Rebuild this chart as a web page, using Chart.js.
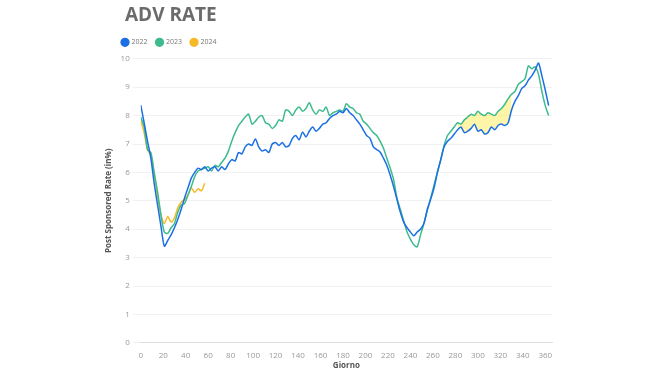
<!DOCTYPE html>
<html>
<head>
<meta charset="utf-8">
<script src="https://cdn.jsdelivr.net/npm/chart.js@4"></script>
<style>
  html, body { margin: 0; padding: 0; background: #fff; }
  #wrap { width: 670px; height: 377px; }
</style>
</head>
<body>
<div id="wrap"><canvas id="advRate" width="670" height="377"></canvas></div>
<script>
  // giorni campionati ogni 3
  const days = [
    0, 3, 6, 9, 12, 15, 18, 21, 24, 27, 30, 33, 36, 39, 42, 45, 48, 51, 54, 57,
    60, 63, 66, 69, 72, 75, 78, 81, 84, 87, 90, 93, 96, 99, 102, 105, 108, 111, 114, 117,
    120, 123, 126, 129, 132, 135, 138, 141, 144, 147, 150, 153, 156, 159, 162, 165, 168, 171, 174, 177,
    180, 183, 186, 189, 192, 195, 198, 201, 204, 207, 210, 213, 216, 219, 222, 225, 228, 231, 234, 237,
    240, 243, 246, 249, 252, 255, 258, 261, 264, 267, 270, 273, 276, 279, 282, 285, 288, 291, 294, 297,
    300, 303, 306, 309, 312, 315, 318, 321, 324, 327, 330, 333, 336, 339, 342, 345, 348, 351, 354, 357,
    360, 363
  ];

  const rate2022 = [
    8.37, 7.75, 7.1, 6.5, 5.6, 4.85, 4.1, 3.4, 3.6, 3.8, 4.05, 4.35, 4.7, 5.1, 5.45, 5.8, 6.0, 6.15, 6.1, 6.2,
    6.05, 6.15, 6.2, 6.05, 6.2, 6.1, 6.3, 6.45, 6.4, 6.7, 6.65, 6.9, 7.0, 6.95, 7.18, 6.9, 6.75, 6.8, 6.7, 7.0,
    7.05, 6.95, 7.05, 6.9, 6.95, 7.2, 7.3, 7.15, 7.42, 7.25, 7.45, 7.6, 7.45, 7.55, 7.7, 7.75, 7.9, 8.0, 8.05, 8.15,
    8.1, 8.25, 8.1, 8.0, 7.85, 7.7, 7.5, 7.3, 7.2, 6.9, 6.8, 6.72, 6.5, 6.25, 5.9, 5.5, 5.05, 4.6, 4.25, 4.05,
    3.9, 3.77, 3.9, 4.0, 4.2, 4.7, 5.05, 5.45, 6.0, 6.45, 6.9, 7.1, 7.2, 7.35, 7.5, 7.6, 7.4, 7.45, 7.55, 7.7,
    7.45, 7.5, 7.35, 7.4, 7.6, 7.5, 7.65, 7.7, 7.65, 7.75, 8.2, 8.5, 8.7, 8.95, 9.05, 9.25, 9.4, 9.6, 9.85, 9.4,
    8.9, 8.35
  ];

  const rate2023 = [
    7.95, 7.6, 6.8, 6.7, 6.0, 5.3, 4.5, 3.9, 3.85, 4.05, 4.2, 4.6, 4.85, 4.9, 5.2, 5.5, 5.85, 6.05, 6.1, 6.15,
    6.2, 6.05, 6.25, 6.2, 6.35, 6.5, 6.75, 7.1, 7.4, 7.65, 7.8, 7.95, 8.05, 7.7, 7.8, 7.95, 8.0, 7.75, 7.7, 7.55,
    7.65, 7.85, 7.8, 8.2, 8.15, 8.0, 8.2, 8.3, 8.15, 8.25, 8.45, 8.2, 8.05, 8.2, 8.15, 8.3, 8.0, 8.1, 8.15, 8.2,
    8.15, 8.42, 8.3, 8.25, 8.1, 8.05, 7.8, 7.7, 7.55, 7.4, 7.3, 7.1, 6.85, 6.5, 6.15, 5.75, 5.1, 4.7, 4.3, 3.9,
    3.65, 3.45, 3.38, 3.8, 4.2, 4.65, 5.1, 5.55, 6.0, 6.45, 6.95, 7.3, 7.45, 7.6, 7.75, 7.7, 7.85, 7.95, 8.05, 8.0,
    8.15, 8.05, 8.0, 8.1, 8.05, 8.0, 8.15, 8.25, 8.4, 8.6, 8.75, 8.85, 9.1, 9.2, 9.3, 9.75, 9.65, 9.72, 9.45, 8.85,
    8.35, 8.0
  ];

  const days2024 = [0, 3, 6, 9, 12, 15, 18, 21, 24, 27, 30, 33, 36, 39, 42, 45, 48, 51, 54, 57];
  const rate2024 = [
    7.83, 7.4, 6.8, 6.6, 5.9, 5.15, 4.5, 4.2, 4.45, 4.25, 4.4, 4.75, 4.95, 5.05, 5.2, 5.45, 5.3, 5.42, 5.35, 5.62
  ];

  // tratto evidenziato tra 2022 e 2023
  const bandFrom = 282;
  const bandTo = 330;

  const xTicks = { min: 0, max: 366, step: 20 };
  const yTicks = { min: 0, max: 10, step: 1 };

  const toPoints = (xs, ys) => xs.map((x, i) => ({ x: x, y: ys[i] }));
  const band = toPoints(days, rate2023).filter((p) => p.x >= bandFrom && p.x <= bandTo);

  const font = "'Open Sans', 'DejaVu Sans', sans-serif";

  // sposta titolo e legenda come nell'originale
  const nudge = {
    id: "nudge",
    beforeInit(chart) {
      const fit = chart.legend.fit;
      chart.legend.fit = function () {
        fit.call(this);
        this.height += 3; // un po' di spazio sotto la legenda
      };
    },
    afterLayout(chart) {
      const shift = (box, dx) => {
        box.left += dx;
        box.right += dx;
      };
      shift(chart.titleBlock, 21);
      shift(chart.legend, 9);
    },
  };

  const line = (label, color, data) => ({
    label: label,
    data: data,
    borderColor: color,
    backgroundColor: color,
    borderWidth: 1.5,
    pointRadius: 0,
    tension: 0.25,
    fill: false,
  });

  new Chart(document.getElementById("advRate"), {
    type: "line",
    data: {
      datasets: [
        line("2022", "#1b6fe4", toPoints(days, rate2022)),
        line("2023", "#3dbb8c", toPoints(days, rate2023)),
        line("2024", "#f6b928", toPoints(days2024, rate2024)),
        {
          label: "band",
          data: band,
          borderWidth: 0,
          borderColor: "rgba(0,0,0,0)",
          backgroundColor: "rgba(253,238,110,0.6)",
          pointRadius: 0,
          tension: 0.25,
          fill: 0,
        },
      ],
    },
    plugins: [nudge],
    options: {
      responsive: false,
      animation: false,
      layout: { padding: { left: 104, right: 118, top: 0, bottom: 6 } },
      plugins: {
        title: {
          display: true,
          text: "ADV RATE",
          align: "start",
          color: "#6b6b6b",
          font: { family: font, size: 19, weight: "bold" },
          padding: { top: 4, bottom: 3 },
        },
        legend: {
          align: "start",
          labels: {
            filter: (item) => item.datasetIndex < 3,
            usePointStyle: true,
            pointStyle: "circle",
            boxWidth: 6,
            boxHeight: 5.5,
            padding: 9,
            color: "#777",
            font: { family: font, size: 7 },
          },
        },
        tooltip: { enabled: false },
      },
      scales: {
        x: {
          type: "linear",
          min: xTicks.min,
          max: xTicks.max,
          grid: { display: false },
          border: { display: true, color: "#dcdcdc" },
          ticks: {
            stepSize: xTicks.step,
            includeBounds: false,
            color: "#999",
            padding: 0,
            maxRotation: 0,
            font: { family: font, size: 8 },
          },
          title: {
            display: true,
            text: "Giorno",
            color: "#555",
            font: { family: font, size: 8, weight: "bold" },
            padding: { top: 1, bottom: 0 },
          },
        },
        y: {
          min: yTicks.min,
          max: yTicks.max,
          grid: { color: "#f1f1f1", drawTicks: true, tickLength: 8 },
          border: { display: false },
          ticks: {
            stepSize: yTicks.step,
            color: "#999",
            padding: 3,
            font: { family: font, size: 8 },
          },
          title: {
            display: true,
            text: "Post Sponsored Rate (in%)",
            color: "#555",
            font: { family: font, size: 8, weight: "bold" },
            padding: { top: 0, bottom: 4 },
          },
        },
      },
    },
  });
</script>
</body>
</html>
